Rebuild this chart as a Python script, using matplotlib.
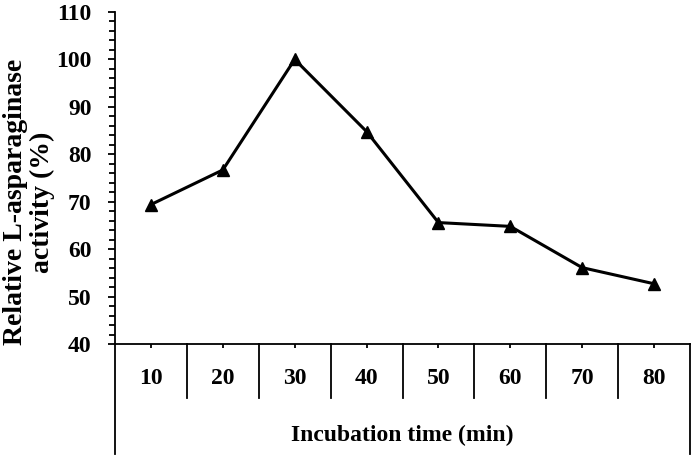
import numpy as np
import matplotlib.pyplot as plt
from matplotlib.ticker import MultipleLocator

plt.rcParams['font.family'] = ['Liberation Serif', 'DejaVu Serif']
plt.rcParams['font.weight'] = 'bold'

# values
times = ['10', '20', '30', '40', '50', '60', '70', '80']
activity = [69.4, 76.7, 100.0, 84.8, 65.6, 64.8, 56.1, 52.7]

fig = plt.figure(figsize=(6.97, 4.57), dpi=100)
ax = fig.add_axes([115/697, 113/457, 575/697, 332/457])

x = np.arange(1, len(times) + 1)
ax.plot(x, activity, color='black', lw=2.2, marker='^', ms=8.5, mfc='black', mec='black')

ax.set_xlim(0.5, len(times) + 0.5)
ax.set_ylim(40, 110)
ax.yaxis.set_major_locator(MultipleLocator(10))
ax.yaxis.set_minor_locator(MultipleLocator(2))
ax.tick_params(axis='y', which='major', direction='out', length=5, width=1.3, pad=12, labelsize=17)
ax.tick_params(axis='y', which='minor', direction='out', length=4, width=1.3)

ax.set_xticks(x)
ax.set_xticklabels(times, fontsize=17, fontweight='bold')
ax.tick_params(axis='x', which='major', direction='out', length=3, width=1.3, pad=14)
for lab in ax.get_yticklabels():
    lab.set_fontweight('bold')

for s in ['top', 'right']:
    ax.spines[s].set_visible(False)
for s in ['left', 'bottom']:
    ax.spines[s].set_linewidth(1.3)

# category separators below the axis (Excel style)
trans = ax.get_xaxis_transform()
px = 1 / 332
for i in range(len(times) + 1):
    xb = i + 0.5
    if i == 0 or i == len(times):
        ax.plot([xb, xb], [0, -110 * px], color='black', lw=1.3, transform=trans, clip_on=False)
    else:
        ax.plot([xb, xb], [0, -54 * px], color='black', lw=1.3, transform=trans, clip_on=False)

ax.text(0.5, -91 * px, 'Incubation time (min)', transform=ax.transAxes,
        ha='center', va='center', fontsize=17, fontweight='bold')

fig.text(29/697, 1 - 202/457, 'Relative L-asparaginase\nactivity (%)', rotation=90,
         ha='center', va='center', multialignment='center', fontsize=20,
         fontweight='bold', linespacing=1.05)

fig.savefig('out.png', dpi=100)
